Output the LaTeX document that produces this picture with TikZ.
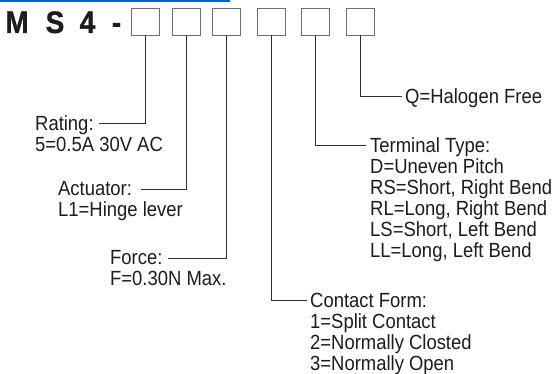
\documentclass[tikz,border=0pt]{standalone}
\usepackage{fontspec}
\setmainfont{Liberation Sans}
\newfontfamily\heavyfont[FakeBold=1.2]{Liberation Sans Bold}
\begin{document}
\begin{tikzpicture}[x=1pt,y=-1pt,
  box/.style={draw=boxgray,line width=0.8pt,minimum width=28pt,minimum height=27pt,inner sep=0pt},
  lead/.style={draw=leadcol,line width=0.9pt},
  lbl/.style={anchor=north west,inner sep=0pt,align=left,text=txtcol,xscale=0.9,font=\fontsize{20.5}{21}\selectfont},
  ttl/.style={anchor=base,inner sep=0pt,text=txtcol,font=\heavyfont\fontsize{31}{32}\selectfont,xscale=0.9}
]
\definecolor{boxgray}{RGB}{110,110,110}
\definecolor{leadcol}{RGB}{50,45,45}
\definecolor{txtcol}{RGB}{30,27,28}
\definecolor{topblue}{RGB}{0,102,204}
\useasboundingbox (0,0) rectangle (556,374);
\fill[topblue] (0,0) rectangle (230,2.5);
% title
\node[ttl] (tM) at (17,33) {M};
\node[ttl] (tS) at (55,33) {S};
\node[ttl] (t4) at (87.5,33) {4};
\node[ttl] (td) at (116.5,33) {-};
% boxes
\node[box] (b1) at (145,21.5) {};
\node[box] (b2) at (186,21.5) {};
\node[box] (b3) at (226.5,21.5) {};
\node[box] (b4) at (271,21.5) {};
\node[box] (b5) at (315,21.5) {};
\node[box] (b6) at (360.5,21.5) {};
% leader ends
\coordinate (e1) at (99,123);
\coordinate (e2) at (141,189);
\coordinate (e3) at (168,258);
\coordinate (e4) at (307,300);
\coordinate (e5) at (366,145);
\coordinate (e6) at (402,96);
\draw[lead] (b1.south) |- (e1);
\draw[lead] (b2.south) |- (e2);
\draw[lead] (b3.south) |- (e3);
\draw[lead] (b4.south) |- (e4);
\draw[lead] (b5.south) |- (e5);
\draw[lead] (b6.south) |- (e6);
% labels
\node[lbl] (l1) at (35,115.5) {Rating:\\5=0.5A 30V AC};
\node[lbl] (l2) at (58,181.5) {Actuator:\\L1=Hinge lever};
\node[lbl] (l3) at (110,250.5) {Force:\\F=0.30N Max.};
\node[lbl] (l4) at (310,292.5) {Contact Form:\\1=Split Contact\\2=Normally Closted\\3=Normally Open};
\node[lbl] (l5) at (370,137.5) {Terminal Type:\\D=Uneven Pitch\\RS=Short, Right Bend\\RL=Long, Right Bend\\LS=Short, Left Bend\\LL=Long, Left Bend};
\node[lbl] (l6) at (405,88.5) {Q=Halogen Free};
\end{tikzpicture}
\end{document}
